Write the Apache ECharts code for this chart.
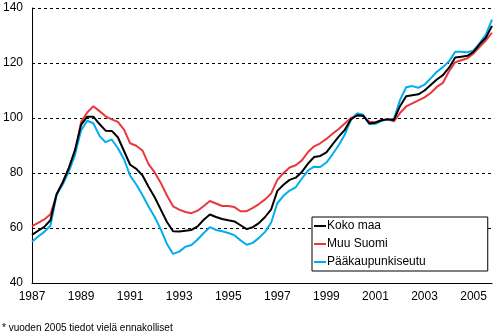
<!DOCTYPE html>
<html>
<head>
<meta charset="utf-8">
<script src="https://cdn.jsdelivr.net/npm/echarts@6/dist/echarts.min.js"></script>
<style>
  html, body { margin: 0; padding: 0; background: #fff; }
  #chart { width: 501px; height: 335px; }
</style>
</head>
<body>
<div id="chart"></div>
<script>
// Quarterly price index, 2000 = 100, from 1987 Q1 to 2005 Q4
const firstYear = 1987;
const lastYear = 2005;
const quarters = [];
for (let y = firstYear; y <= lastYear; y++) {
  for (let q = 1; q <= 4; q++) quarters.push(y + ' Q' + q);
}

const seriesNames = ['Koko maa', 'Muu Suomi', 'Pääkaupunkiseutu'];

const kokoMaa = [
  57.5, 59.0, 60.4, 62.8,  72.3, 76.5, 81.8, 88.3,
  97.5, 100.5, 100.5, 97.8,  95.4, 95.3, 93.0, 88.0,
  83.0, 81.5, 79.2, 75.0,  71.2, 66.7, 62.2, 58.8,
  58.7, 59.0, 59.3, 60.6,  63.0, 64.9, 64.0, 63.3,
  62.8, 62.4, 61.0, 59.6,  60.3, 61.8, 64.0, 66.8,
  73.5, 75.7, 77.5, 78.3,  80.4, 83.4, 85.8, 86.2,
  87.5, 90.4, 93.2, 95.7,  99.5, 101.0, 100.8, 98.0,
  98.3, 99.2, 99.5, 99.3,  104.3, 107.9, 108.3, 108.6,
  110.0, 112.0, 114.0, 115.6,  118.3, 122.0, 122.3, 122.6,
  124.1, 126.9, 129.2, 133.5
];

const muuSuomi = [
  60.7, 61.9, 63.1, 65.0,  72.0, 76.8, 81.8, 87.5,
  98.5, 102.0, 104.3, 102.5,  100.6, 99.5, 98.6, 95.8,
  90.8, 89.9, 88.2, 83.2,  80.2, 76.4, 71.8, 67.9,
  66.7, 65.8, 65.4, 66.3,  68.0, 69.8, 68.9, 68.0,
  68.0, 67.6, 66.1, 66.1,  67.3, 68.7, 70.4, 72.6,
  77.5, 80.0, 82.0, 82.8,  84.6, 87.6, 89.7, 90.8,
  92.4, 94.3, 96.0, 98.0,  100.0, 101.0, 100.7, 98.6,
  98.5, 99.3, 99.5, 98.8,  101.8, 104.2, 105.3, 106.4,
  107.5, 109.1, 111.3, 112.8,  117.0, 120.3, 121.0, 121.7,
  123.5, 125.9, 128.2, 131.0
];

const paakaupunkiseutu = [
  55.0, 56.9, 58.6, 60.8,  72.0, 75.8, 80.5, 86.5,
  95.5, 99.0, 98.1, 93.5,  91.2, 92.2, 89.0, 85.0,
  79.0, 75.8, 72.0, 67.8,  64.0, 59.5, 54.2, 50.6,
  51.4, 53.2, 53.8, 55.8,  58.2, 60.3, 59.3, 58.8,
  58.2, 57.4, 55.5, 53.9,  54.6, 56.4, 58.6, 62.0,
  69.0, 71.7, 73.6, 74.8,  78.0, 80.9, 82.3, 82.2,
  83.8, 86.8, 90.1, 94.0,  99.4, 101.7, 101.2, 97.8,
  97.9, 99.0, 99.5, 99.6,  106.5, 111.2, 111.6, 111.0,
  112.1, 114.4, 116.8, 118.5,  120.6, 124.1, 124.1, 123.9,
  124.6, 127.2, 130.3, 135.8
];

const yMin = 40, yMax = 140, yStep = 20;
const footnote = '* vuoden 2005 tiedot vielä ennakolliset';

const colors = { black: '#000000', red: '#e8383d', cyan: '#00aeef' };
const fontFamily = '"Liberation Sans", Arial, sans-serif';

const chart = echarts.init(document.getElementById('chart'), null, { renderer: 'canvas' });

function lineSeries(name, data, color, z) {
  return {
    name: name,
    type: 'line',
    data: data,
    symbol: 'none',
    showSymbol: false,
    smooth: false,
    z: z,
    lineStyle: { color: color, width: 2 },
    itemStyle: { color: color },
    emphasis: { disabled: true },
    animation: false
  };
}

chart.setOption({
  animation: false,
  grid: { left: 32, right: 9, top: 8, bottom: 52, containLabel: false },
  xAxis: {
    type: 'category',
    data: quarters,
    boundaryGap: false,
    axisLine: { show: true, lineStyle: { color: '#000', width: 1 } },
    axisTick: { show: false },
    axisLabel: {
      color: '#000',
      fontSize: 12,
      fontFamily: fontFamily,
      margin: 8,
      interval: function (index) { return index % 8 === 0; },
      formatter: function (v) { return v.slice(0, 4); }
    },
    splitLine: { show: false }
  },
  yAxis: {
    type: 'value',
    min: yMin,
    max: yMax,
    interval: yStep,
    axisLine: { show: true, lineStyle: { color: '#000', width: 1 } },
    axisTick: { show: false },
    axisLabel: { color: '#000', fontSize: 12, fontFamily: fontFamily, margin: 9 },
    splitLine: { show: true, lineStyle: { color: '#000', width: 1, type: [3, 3] } }
  },
  legend: {
    data: seriesNames,
    orient: 'vertical',
    left: 312,
    top: 217,
    icon: 'rect',
    itemWidth: 12,
    itemHeight: 2,
    itemGap: 6,
    padding: [3, 62, 3, 2],
    backgroundColor: '#fff',
    borderColor: '#000',
    borderWidth: 1,
    borderRadius: 0,
    selectedMode: false,
    textStyle: { color: '#000', fontSize: 12, fontFamily: fontFamily, padding: [0, 0, 0, -4] }
  },
  graphic: [{
    type: 'text',
    left: 2,
    top: 323,
    style: { text: footnote, fill: '#000', fontSize: 10, fontFamily: fontFamily }
  }],
  series: [
    lineSeries(seriesNames[1], muuSuomi, colors.red, 2),
    lineSeries(seriesNames[2], paakaupunkiseutu, colors.cyan, 3),
    lineSeries(seriesNames[0], kokoMaa, colors.black, 4)
  ]
});
</script>
</body>
</html>
